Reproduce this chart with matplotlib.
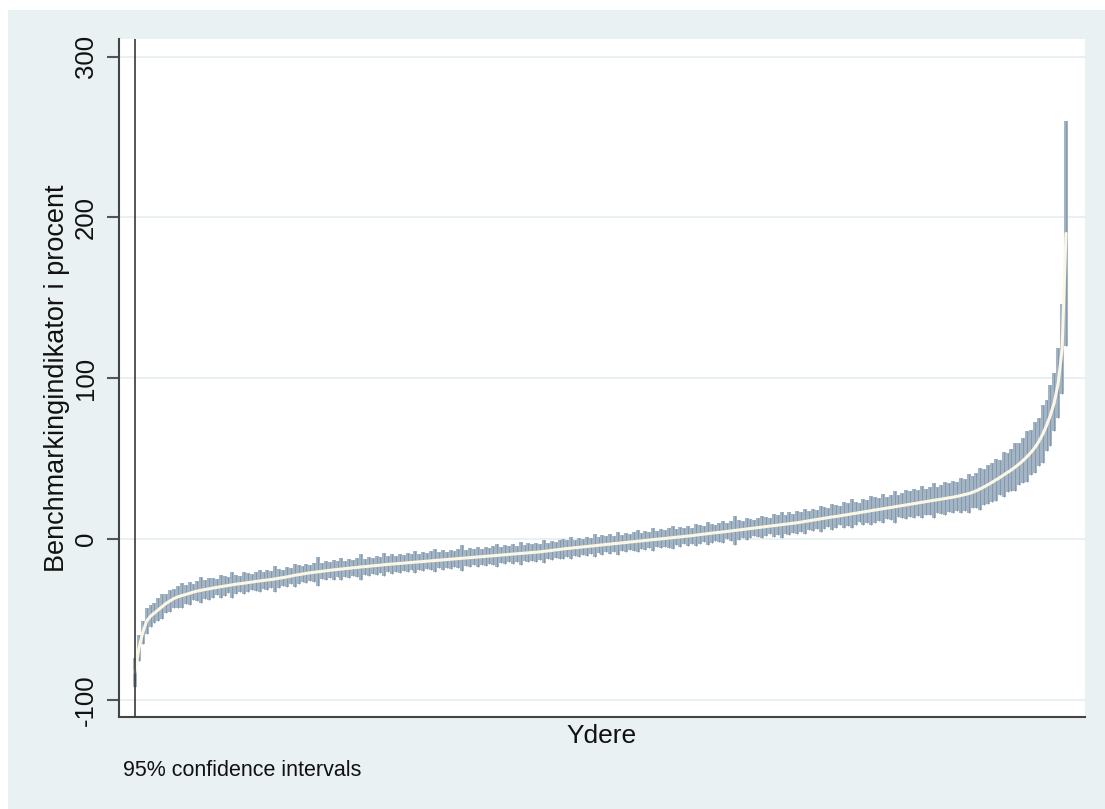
import matplotlib
matplotlib.use("Agg")
import matplotlib.pyplot as plt
import numpy as np

# ---- data: sorted unit estimates (percent) and 95% CI half-widths ----
estimates = [
    -83, -68, -58, -51, -48, -46, -44, -42, -40, -38.5,
    -37, -36, -35.2, -34.5, -33.8, -33, -32.4, -31.9, -31.4, -31,
    -30.5, -30.1, -29.7, -29.3, -28.9, -28.5, -28.1, -27.8, -27.5, -27.1,
    -26.8, -26.4, -26.1, -25.8, -25.5, -25.2, -24.8, -24.4, -24.0, -23.6,
    -23.1, -22.6, -22.2, -21.8, -21.4, -21.0, -20.7, -20.4, -20.1, -19.8,
    -19.5, -19.2, -18.9, -18.7, -18.4, -18.2, -17.9, -17.7, -17.4, -17.2,
    -17.0, -16.7, -16.5, -16.3, -16.0, -15.8, -15.6, -15.4, -15.2, -15.0,
    -14.8, -14.6, -14.4, -14.2, -14.0, -13.8, -13.6, -13.4, -13.2, -13.0,
    -12.8, -12.6, -12.4, -12.2, -12.0, -11.8, -11.6, -11.4, -11.2, -11.0,
    -10.8, -10.6, -10.4, -10.2, -10.0, -9.8, -9.6, -9.4, -9.2, -9.0,
    -8.8, -8.6, -8.4, -8.2, -8.0, -7.7, -7.4, -7.1, -6.8, -6.5,
    -6.2, -5.9, -5.7, -5.4, -5.2, -4.9, -4.7, -4.4, -4.2, -3.9,
    -3.7, -3.4, -3.2, -2.9, -2.7, -2.4, -2.2, -1.9, -1.7, -1.4,
    -1.2, -0.9, -0.7, -0.4, -0.2, 0.1, 0.3, 0.6, 0.8, 1.1,
    1.3, 1.6, 1.8, 2.1, 2.4, 2.7, 3.0, 3.3, 3.6, 3.9,
    4.1, 4.4, 4.7, 5.0, 5.3, 5.6, 5.9, 6.2, 6.5, 6.8,
    7.1, 7.4, 7.7, 8.0, 8.3, 8.6, 8.9, 9.2, 9.5, 9.8,
    10.1, 10.5, 10.9, 11.3, 11.7, 12.1, 12.5, 12.9, 13.3, 13.7,
    14.0, 14.4, 14.8, 15.2, 15.6, 16.0, 16.4, 16.8, 17.2, 17.6,
    18.0, 18.4, 18.8, 19.2, 19.6, 20.0, 20.4, 20.8, 21.2, 21.6,
    22.0, 22.4, 22.8, 23.2, 23.6, 24.0, 24.4, 24.8, 25.2, 25.6,
    26.0, 26.5, 27.0, 27.6, 28.2, 29.0, 30.0, 31.2, 32.4, 33.8,
    35.2, 36.7, 38.2, 39.8, 41.4, 43.0, 44.8, 46.7, 48.8, 51.2,
    53.8, 56.8, 60.5, 65.0, 70.5, 77.0, 85.0, 97.0, 118.0, 190.0,
]

ci_halfwidth = [
    9, 8, 7, 8, 7, 6, 7, 8, 6, 7,
    6, 7, 8, 6, 7, 5, 6, 8, 6, 7,
    6, 5, 7, 6, 5, 8, 6, 5, 7, 6,
    5, 6, 7, 5, 6, 5, 8, 6, 5, 6,
    5, 7, 6, 5, 6, 5, 6, 9, 5, 6,
    5, 6, 5, 7, 5, 6, 5, 6, 8, 5,
    6, 5, 6, 5, 7, 5, 6, 5, 6, 5,
    6, 5, 7, 5, 6, 5, 6, 7, 5, 6,
    5, 6, 5, 6, 8, 5, 6, 5, 6, 5,
    6, 5, 6, 7, 5, 6, 5, 6, 5, 7,
    5, 6, 5, 6, 5, 7, 5, 6, 5, 6,
    6, 5, 7, 5, 6, 5, 6, 5, 7, 5,
    6, 5, 6, 5, 7, 5, 6, 5, 6, 7,
    5, 6, 5, 7, 5, 6, 5, 6, 7, 5,
    6, 5, 6, 5, 7, 6, 5, 7, 6, 5,
    6, 7, 5, 6, 9, 6, 5, 7, 6, 5,
    6, 7, 6, 5, 7, 6, 8, 6, 7, 6,
    7, 6, 8, 6, 7, 6, 8, 7, 6, 8,
    7, 6, 8, 7, 9, 7, 6, 8, 7, 9,
    8, 7, 9, 7, 8, 10, 7, 8, 9, 8,
    9, 8, 10, 8, 9, 11, 8, 9, 10, 9,
    10, 9, 11, 10, 12, 10, 11, 13, 11, 12,
    12, 13, 11, 14, 12, 13, 15, 13, 14, 16,
    14, 16, 15, 18, 16, 19, 18, 22, 28, 70,
]

y_ticks = [-100, 0, 100, 200, 300]
y_label = "Benchmarkingindikator i procent"
x_label = "Ydere"
note = "95% confidence intervals"

# ---- figure ----
W, H = 1105, 809
plt.rcParams["font.family"] = ["Liberation Sans", "DejaVu Sans"]
fig = plt.figure(figsize=(W / 100, H / 100), dpi=100, facecolor="white")

# graph region background (light bluish grey)
bg_ax = fig.add_axes([8 / W, 0, 1 - 8 / W, (H - 10) / H], zorder=0)
bg_ax.set_facecolor("#E9F1F3")
bg_ax.set_xticks([])
bg_ax.set_yticks([])
for s in bg_ax.spines.values():
    s.set_visible(False)

ax_l, ax_r, ax_t, ax_b = 119, 1085, 39, 717
ax = fig.add_axes([ax_l / W, (H - ax_b) / H, (ax_r - ax_l) / W, (ax_b - ax_t) / H],
                  zorder=2)
ax.set_facecolor("white")

est = np.array(estimates, dtype=float)
hw = np.array(ci_halfwidth, dtype=float)
x = np.arange(len(est))

ax.vlines(x, est - hw, est + hw, color="#A3B5C5", linewidth=2.9, zorder=3)
ax.vlines(x, est - hw, est + hw, color="#8598AC", linewidth=0.7, zorder=3)
ax.plot(x, est, color="#FBF7E4", linewidth=2.2, zorder=4, solid_capstyle="round")
ax.axvline(0, color="#3a3a3a", linewidth=1.2, zorder=5)

n = len(est)
scale = 931 / (n - 1)
ax.set_xlim(-16 / scale, (n - 1) + 19 / scale)
ax.set_ylim(-110.7, 310.9)

ax.set_yticks(y_ticks)
ax.set_yticklabels([str(v) for v in y_ticks], rotation=90, va="center")
ax.set_xticks([])
ax.yaxis.grid(True, color="#E6EFF1", linewidth=1.3, zorder=1)
ax.set_axisbelow(True)

for side in ("top", "right"):
    ax.spines[side].set_visible(False)
for side in ("left", "bottom"):
    ax.spines[side].set_color("#444444")
    ax.spines[side].set_linewidth(1.5)

ax.tick_params(axis="y", length=8.5, width=1.5, color="#555555",
               labelsize=18.5, pad=6.5, labelcolor="#111111")

ax.set_xlabel(x_label, fontsize=19, color="#111111", labelpad=5)
fig.text(57.5 / W, 1 - 378 / H, y_label, rotation=90, ha="center", va="center",
         fontsize=19.5, color="#111111", zorder=5)
fig.text(123 / W, 1 - 771 / H, note, ha="left", va="center", fontsize=15.5,
         color="#111111", zorder=5)

fig.savefig("out.png", dpi=100, facecolor="white")
